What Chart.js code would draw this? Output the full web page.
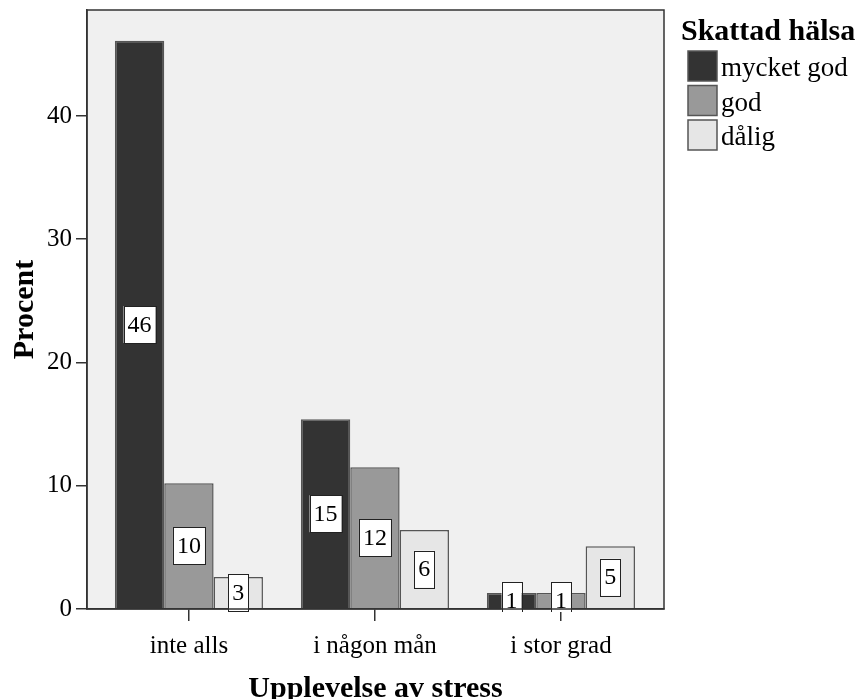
<!DOCTYPE html>
<html><head><meta charset="utf-8">
<script src="https://cdn.jsdelivr.net/npm/chart.js@4.4.1/dist/chart.umd.min.js"></script>
<style>html,body{margin:0;padding:0;background:#fff;} canvas{display:block;}</style>
</head><body>
<canvas id="c" width="859" height="699"></canvas>
<script>
const categories = ['inte alls', 'i någon mån', 'i stor grad'];
const seriesNames = ['mycket god', 'god', 'dålig'];
const mycketGod = [46.1, 15.4, 1.3];
const god = [10.2, 11.5, 1.3];
const dalig = [2.6, 6.4, 5.1];
const yTicks = [0, 10, 20, 30, 40];
const yMax = 48.6;
const legendTitle = 'Skattad hälsa';
const xTitle = 'Upplevelse av stress';
const yTitle = 'Procent';

const colors = ['#333333', '#999999', '#e6e6e6'];
const SERIF = "'Liberation Serif', 'Times New Roman', serif";
const seriesValues = [mycketGod, god, dalig];

const framePlugin = {
  id: 'frame',
  beforeDraw(chart) {
    const {ctx, chartArea: a} = chart;
    ctx.save();
    ctx.fillStyle = '#f0f0f0';
    ctx.fillRect(a.left, a.top, a.right - a.left, a.bottom - a.top);
    ctx.restore();
  },
  afterDatasetsDraw(chart) {
    const {ctx, chartArea: a} = chart;
    ctx.save();
    ctx.beginPath();
    ctx.rect(0, 0, chart.width, a.bottom + 3);
    ctx.clip();
    ctx.font = '24px ' + SERIF;
    ctx.textAlign = 'center';
    ctx.textBaseline = 'middle';
    chart.data.datasets.forEach((ds, di) => {
      chart.getDatasetMeta(di).data.forEach((bar, i) => {
        const txt = String(Math.round(seriesValues[di][i]));
        const w = ctx.measureText(txt).width + 8;
        const h = 37;
        const cy = (bar.y + bar.base) / 2;
        ctx.fillStyle = '#fff';
        ctx.fillRect(bar.x - w / 2, cy - h / 2, w, h);
        ctx.strokeStyle = '#222';
        ctx.lineWidth = 1;
        ctx.strokeRect(Math.round(bar.x - w / 2) + 0.5, Math.round(cy - h / 2) + 0.5, Math.round(w), h);
        ctx.fillStyle = '#000';
        ctx.fillText(txt, bar.x, cy + 1);
      });
    });
    ctx.restore();
  },
  afterDraw(chart) {
    const {ctx, chartArea: a} = chart;
    ctx.save();
    ctx.strokeStyle = '#333';
    ctx.lineWidth = 1.5;
    ctx.strokeRect(a.left, a.top, a.right - a.left, a.bottom - a.top);
    ctx.fillStyle = '#000';
    ctx.font = 'bold 30px ' + SERIF;
    ctx.textAlign = 'center';
    ctx.textBaseline = 'alphabetic';
    ctx.fillText(xTitle, (a.left + a.right) / 2, 697);
    ctx.save();
    ctx.translate(33, (a.top + a.bottom) / 2);
    ctx.rotate(-Math.PI / 2);
    ctx.fillText(yTitle, 0, 0);
    ctx.restore();
    ctx.textAlign = 'left';
    ctx.textBaseline = 'alphabetic';
    ctx.font = 'bold 30px ' + SERIF;
    ctx.fillText(legendTitle, 681, 40);
    ctx.font = '27px ' + SERIF;
    seriesNames.forEach((n, i) => {
      const y = 51 + i * 34.5;
      ctx.fillStyle = colors[i];
      ctx.fillRect(688, y, 29, 30);
      ctx.strokeStyle = '#555';
      ctx.lineWidth = 1.5;
      ctx.strokeRect(688, y, 29, 30);
      ctx.fillStyle = '#000';
      ctx.fillText(n, 721, y + 25);
    });
    ctx.restore();
  }
};

new Chart(document.getElementById('c'), {
  type: 'bar',
  data: {
    datasets: seriesNames.map((n, di) => ({
      label: n,
      data: categories.map((c, i) => ({x: i, y: seriesValues[di][i]})),
      backgroundColor: colors[di],
      borderColor: '#555',
      borderWidth: 1.5,
      categoryPercentage: 0.796,
      barPercentage: 1.0
    }))
  },
  options: {
    responsive: false,
    animation: false,
    layout: {padding: {left: 0, right: 195, top: 10, bottom: 0}},
    plugins: {legend: {display: false}, tooltip: {enabled: false}},
    scales: {
      x: {
        type: 'linear',
        offset: false,
        min: -0.548,
        max: 2.554,
        afterFit(s) { s.height = 90; s.paddingLeft = 0; s.paddingRight = 0; },
        afterBuildTicks(s) { s.ticks = categories.map((c, i) => ({value: i})); },
        grid: {display: true, offset: false, drawOnChartArea: false, drawTicks: true, tickLength: 12, color: '#333', lineWidth: 1.5},
        border: {display: true, color: '#333', width: 1.5},
        ticks: {
          color: '#000', font: {family: SERIF, size: 25}, padding: 10, maxRotation: 0, autoSkip: false,
          callback: (v) => categories[Math.round(v)] ?? ''
        }
      },
      y: {
        min: 0,
        max: yMax,
        afterFit(s) { s.width = 87; s.paddingTop = 0; s.paddingBottom = 0; },
        afterBuildTicks(s) { s.ticks = yTicks.map(v => ({value: v})); },
        grid: {display: true, drawOnChartArea: false, drawTicks: true, tickLength: 11, color: '#333', lineWidth: 1.5},
        border: {display: true, color: '#333', width: 1.5},
        ticks: {color: '#000', font: {family: SERIF, size: 25}, padding: 4}
      }
    }
  },
  plugins: [framePlugin]
});
</script>
</body></html>
